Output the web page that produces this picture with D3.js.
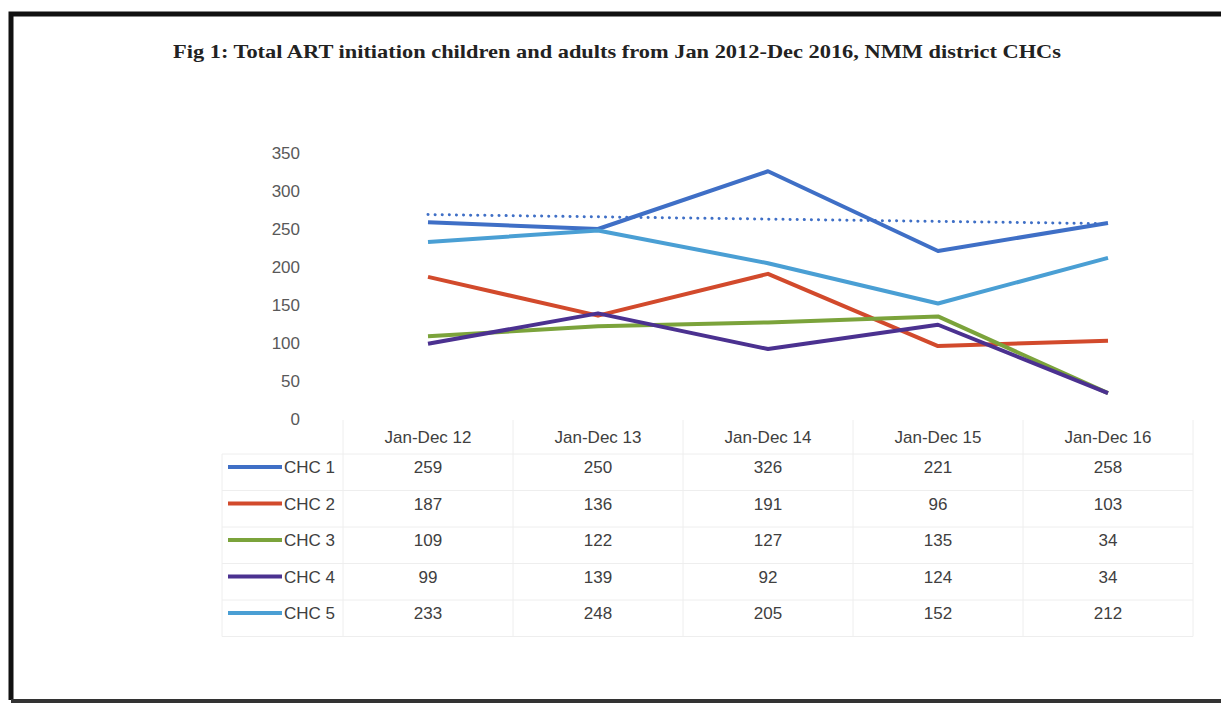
<!DOCTYPE html>
<html>
<head>
<meta charset="utf-8">
<script src="https://cdn.jsdelivr.net/npm/d3@7"></script>
<style>
  html, body { margin: 0; padding: 0; background: #fff; }
  svg { display: block; }
</style>
</head>
<body>
<svg id="chart" width="1221" height="704"></svg>
<script>
// Chart data
const periods = ["Jan-Dec 12", "Jan-Dec 13", "Jan-Dec 14", "Jan-Dec 15", "Jan-Dec 16"];
const seriesNames = ["CHC 1", "CHC 2", "CHC 3", "CHC 4", "CHC 5"];
const chc1 = [259, 250, 326, 221, 258];
const chc2 = [187, 136, 191, 96, 103];
const chc3 = [109, 122, 127, 135, 34];
const chc4 = [99, 139, 92, 124, 34];
const chc5 = [233, 248, 205, 152, 212];
// dotted trend line on CHC 1, end values
const trendEnds = [269, 257];
const yTicks = [0, 50, 100, 150, 200, 250, 300, 350];

const seriesValues = [chc1, chc2, chc3, chc4, chc5];
const colors = ["#3f6fc6", "#d24a2c", "#7ba33b", "#4b3190", "#4a9fd4"];
const labelFont = "Liberation Sans, sans-serif";

const svg = d3.select("#chart");

// Frame (scanned page border)
svg.append("path")
    .attr("d", "M11,700 L11,14 L1221,14")
    .attr("fill", "none")
    .attr("stroke", "#111")
    .attr("stroke-width", 5);
svg.append("line")
    .attr("x1", 11).attr("x2", 1221)
    .attr("y1", 701).attr("y2", 701)
    .attr("stroke", "#333")
    .attr("stroke-width", 4);

// Title
svg.append("text")
    .attr("x", 617)
    .attr("y", 58)
    .attr("text-anchor", "middle")
    .attr("font-family", "Liberation Serif, serif")
    .attr("font-weight", "bold")
    .attr("font-size", 19)
    .attr("textLength", 888)
    .attr("lengthAdjust", "spacingAndGlyphs")
    .attr("fill", "#222")
    .text("Fig 1: Total ART initiation  children and adults from Jan 2012-Dec 2016, NMM district CHCs");

// Scales
const x = d3.scaleBand().domain(periods).range([343, 1193]);
const cx = d => x(d) + x.bandwidth() / 2;
const y = d3.scaleLinear().domain([0, 350]).range([419, 153]);

// Y axis labels
const yAxis = svg.append("g")
    .attr("transform", "translate(300,0)")
    .call(d3.axisLeft(y).tickValues(yTicks).tickSize(0).tickPadding(0));
yAxis.select(".domain").remove();
yAxis.selectAll("text")
    .attr("font-family", labelFont)
    .attr("font-size", 17)
    .attr("fill", "#595959");

// Data table grid
const rowH = 36.5;
const rowY = [420, 454, 454 + rowH, 454 + 2 * rowH, 454 + 3 * rowH, 454 + 4 * rowH, 454 + 5 * rowH];
const grid = svg.append("g").attr("stroke", "#eeeeee").attr("stroke-width", 1);
grid.selectAll("line.v")
    .data(periods.concat(["end"]))
    .join("line")
    .attr("x1", (d, i) => 343 + i * x.bandwidth())
    .attr("x2", (d, i) => 343 + i * x.bandwidth())
    .attr("y1", 420).attr("y2", rowY[6]);
grid.selectAll("line.h")
    .data(rowY.slice(1))
    .join("line")
    .attr("x1", 222).attr("x2", 1193)
    .attr("y1", d => d).attr("y2", d => d);
grid.append("line")
    .attr("x1", 222).attr("x2", 222)
    .attr("y1", 454).attr("y2", rowY[6]);

// Header row
svg.selectAll("text.hdr")
    .data(periods)
    .join("text")
    .attr("x", d => cx(d))
    .attr("y", 443)
    .attr("text-anchor", "middle")
    .attr("font-family", labelFont)
    .attr("font-size", 17)
    .attr("fill", "#404040")
    .text(d => d);

// Table rows with legend keys
seriesNames.forEach((name, si) => {
    const ry = 473 + si * rowH;
    svg.append("line")
        .attr("x1", 228).attr("x2", 282)
        .attr("y1", ry - 6).attr("y2", ry - 6)
        .attr("stroke", colors[si])
        .attr("stroke-width", 4);
    svg.append("text")
        .attr("x", 284).attr("y", ry)
        .attr("font-family", labelFont)
        .attr("font-size", 17)
        .attr("fill", "#404040")
        .text(name);
    svg.selectAll(null)
        .data(seriesValues[si])
        .join("text")
        .attr("x", (d, i) => cx(periods[i]))
        .attr("y", ry)
        .attr("text-anchor", "middle")
        .attr("font-family", labelFont)
        .attr("font-size", 17)
        .attr("fill", "#404040")
        .text(d => d);
});

// Lines
const line = d3.line()
    .x((d, i) => cx(periods[i]))
    .y(d => y(d));

seriesValues.forEach((vals, si) => {
    svg.append("path")
        .datum(vals)
        .attr("fill", "none")
        .attr("stroke", colors[si])
        .attr("stroke-width", 4)
        .attr("stroke-linejoin", "round")
        .attr("d", line);
});

// Trend line for CHC 1
svg.append("line")
    .attr("x1", cx(periods[0])).attr("y1", y(trendEnds[0]))
    .attr("x2", cx(periods[periods.length - 1])).attr("y2", y(trendEnds[1]))
    .attr("stroke", colors[0])
    .attr("stroke-width", 3)
    .attr("stroke-linecap", "round")
    .attr("stroke-dasharray", "0.1,7");
</script>
</body>
</html>
